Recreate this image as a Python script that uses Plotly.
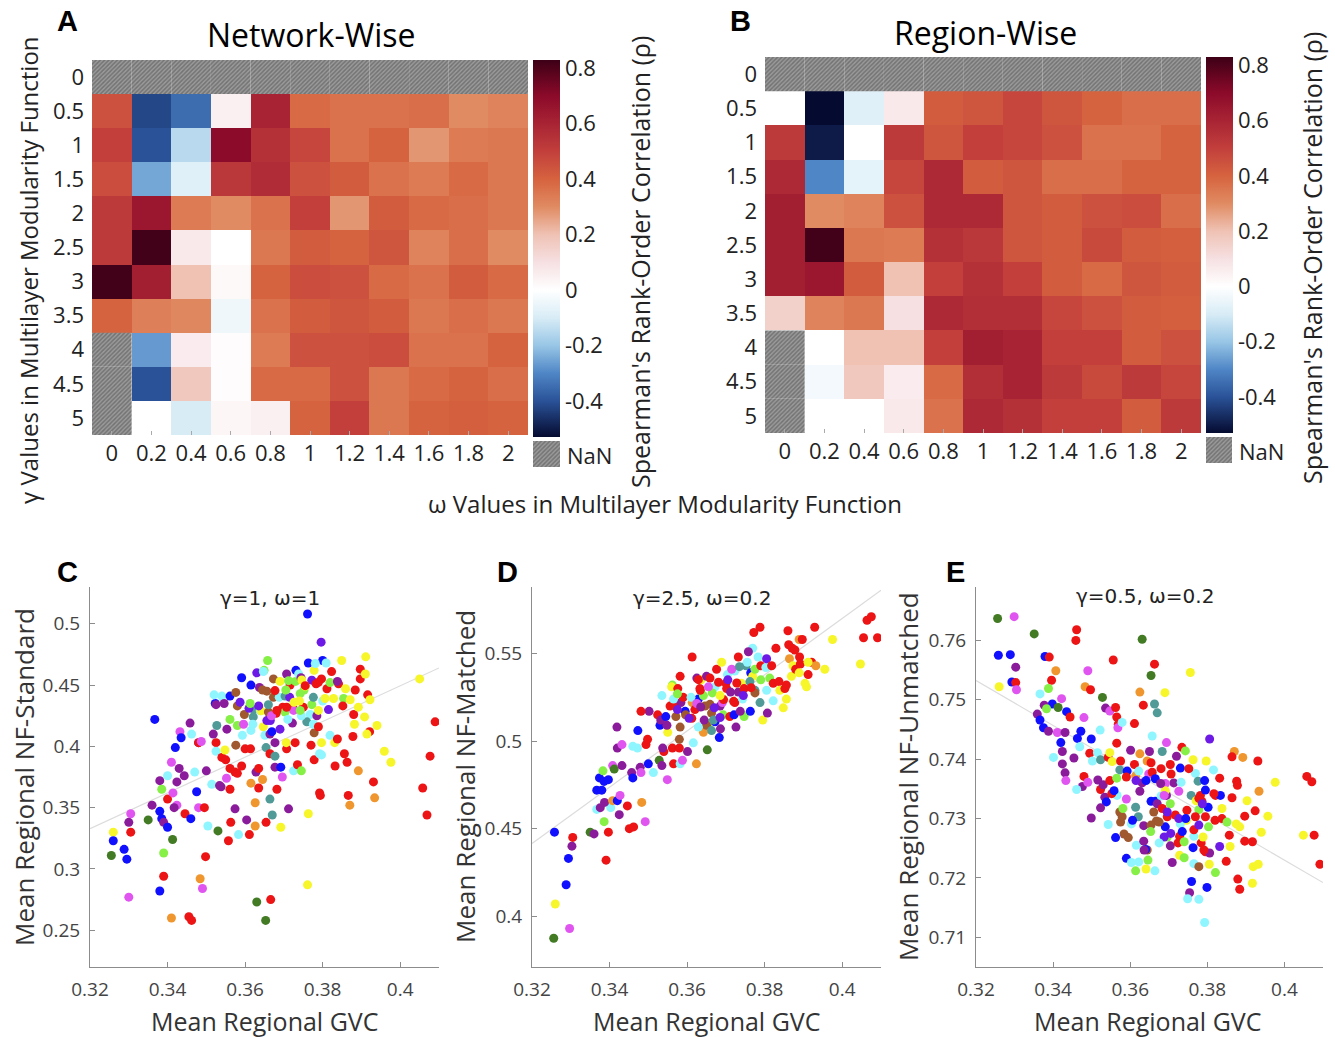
import numpy as np
import plotly.graph_objects as go

W, H = 1335, 1037
def px(x): return x / W
def py(y): return 1 - y / H

FONT = "Open Sans"

# ---------------- heatmap data ----------------
gamma_labels = ["0", "0.5", "1", "1.5", "2", "2.5", "3", "3.5", "4", "4.5", "5"]
omega_labels = ["0", "0.2", "0.4", "0.6", "0.8", "1", "1.2", "1.4", "1.6", "1.8", "2"]
N = None
network_wise = [
    [N, N, N, N, N, N, N, N, N, N, N],
    [0.45, -0.42, -0.35, 0.05, 0.60, 0.38, 0.36, 0.36, 0.37, 0.30, 0.32],
    [0.50, -0.40, -0.15, 0.70, 0.55, 0.48, 0.36, 0.40, 0.28, 0.34, 0.35],
    [0.46, -0.25, -0.08, 0.53, 0.57, 0.45, 0.42, 0.36, 0.34, 0.38, 0.35],
    [0.52, 0.65, 0.34, 0.30, 0.36, 0.50, 0.28, 0.42, 0.38, 0.37, 0.35],
    [0.52, 0.82, 0.07, 0.00, 0.35, 0.42, 0.40, 0.44, 0.32, 0.37, 0.30],
    [0.82, 0.62, 0.20, 0.02, 0.40, 0.46, 0.45, 0.38, 0.36, 0.42, 0.38],
    [0.40, 0.33, 0.31, -0.04, 0.36, 0.42, 0.44, 0.42, 0.35, 0.37, 0.35],
    [N, -0.27, 0.06, 0.01, 0.34, 0.45, 0.45, 0.46, 0.36, 0.36, 0.40],
    [N, -0.40, 0.18, 0.01, 0.38, 0.38, 0.45, 0.35, 0.38, 0.40, 0.37],
    [N, 0.00, -0.10, 0.03, 0.05, 0.40, 0.50, 0.35, 0.40, 0.41, 0.40],
]
region_wise = [
    [N, N, N, N, N, N, N, N, N, N, N],
    [0.00, -0.53, -0.08, 0.07, 0.42, 0.44, 0.48, 0.44, 0.40, 0.37, 0.37],
    [0.52, -0.50, 0.00, 0.52, 0.44, 0.50, 0.48, 0.45, 0.36, 0.36, 0.40],
    [0.58, -0.30, -0.07, 0.48, 0.58, 0.42, 0.44, 0.37, 0.37, 0.40, 0.40],
    [0.62, 0.30, 0.32, 0.45, 0.58, 0.58, 0.44, 0.42, 0.45, 0.46, 0.37],
    [0.62, 0.82, 0.35, 0.34, 0.55, 0.53, 0.44, 0.42, 0.47, 0.42, 0.41],
    [0.62, 0.65, 0.42, 0.20, 0.50, 0.55, 0.50, 0.42, 0.38, 0.44, 0.42],
    [0.15, 0.32, 0.35, 0.10, 0.58, 0.56, 0.56, 0.48, 0.45, 0.42, 0.41],
    [N, 0.00, 0.20, 0.20, 0.50, 0.62, 0.60, 0.50, 0.50, 0.42, 0.45],
    [N, -0.03, 0.18, 0.06, 0.38, 0.56, 0.60, 0.52, 0.47, 0.52, 0.48],
    [N, 0.00, 0.00, 0.07, 0.36, 0.58, 0.55, 0.50, 0.50, 0.42, 0.52],
]
cbar_ticks = [-0.4, -0.2, 0, 0.2, 0.4, 0.6, 0.8]
ZMIN, ZMAX = -0.53, 0.83
cs_vals = [-0.53, -0.4, -0.3, -0.2, -0.1, 0.0, 0.1, 0.2, 0.3, 0.4, 0.5, 0.6, 0.7, 0.83]
cs_cols = ["#050b30", "#2a5298", "#4f86c6", "#98c6e6", "#d8ecf6", "#ffffff", "#f6e0e2",
           "#efc2b4", "#e08b62", "#d6633f", "#c23f3c", "#a82434", "#8c0a2a", "#3c0016"]
colorscale = [[(v - ZMIN) / (ZMAX - ZMIN), c] for v, c in zip(cs_vals, cs_cols)]

# ---------------- scatter data ----------------
net_colors = {"B": "#1010ff", "P": "#8a1c9c", "I": "#6e1ae6", "M": "#e055f0", "C": "#8ff6ff",
              "G": "#86f046", "DG": "#437a24", "Y": "#f6f62a", "O": "#f0962e", "R": "#ec1414",
              "BR": "#a0582e", "T": "#509a98"}

points_C = [("Y",0.326,0.330),("B",0.326,0.323),("DG",0.3255,0.311),("B",0.3288,0.316),("B",0.3295,0.308),("P",0.330,0.338),("M",0.3305,0.345),("R",0.3305,0.330),("M",0.330,0.277),("DG",0.335,0.340),("P",0.336,0.352),("B",0.3367,0.422),("P",0.338,0.372),("G",0.3385,0.365),("B",0.338,0.347),("B",0.3385,0.341),("P",0.339,0.338),("B",0.340,0.334),("G",0.339,0.313),("R",0.339,0.294),("B",0.338,0.282),("O",0.341,0.260),("R",0.340,0.357),("C",0.340,0.376),("M",0.341,0.387),("B",0.342,0.399),("M",0.3414,0.362),("DG",0.3413,0.324),("P",0.3424,0.371),("M",0.3424,0.352),("P",0.3417,0.350),("M",0.3432,0.412),("B",0.3435,0.407),("P",0.343,0.382),("P",0.3443,0.376),("R",0.3445,0.345),("P",0.3458,0.419),("C",0.3462,0.410),("R",0.3455,0.261),("R",0.3462,0.258),("B",0.346,0.341),("C",0.347,0.379),("B",0.3475,0.363),("P",0.348,0.403),("R",0.348,0.403),("M",0.3487,0.404),("M",0.348,0.350),("R",0.3495,0.350),("R",0.3498,0.310),("O",0.3484,0.292),("M",0.349,0.284),("P",0.350,0.380),("C",0.3504,0.335),("C",0.3514,0.369),("P",0.3518,0.410),("B",0.3523,0.435),("P",0.3525,0.434),("R",0.3525,0.403),("T",0.3527,0.417),("C",0.3525,0.396),("DG",0.353,0.331),("P",0.3538,0.367),("P",0.3534,0.368),("R",0.354,0.391),("C",0.354,0.441),("P",0.3546,0.435),("Y",0.3548,0.397),("R",0.355,0.389),("M",0.3552,0.374),("B",0.3561,0.441),("P",0.3553,0.414),("G",0.3561,0.422),("R",0.3561,0.365),("R",0.3563,0.338),("R",0.3557,0.323),("R",0.3561,0.382),("BR",0.3576,0.444),("BR",0.358,0.433),("BR",0.3576,0.401),("G",0.358,0.417),("P",0.3574,0.349),("C",0.3583,0.328),("R",0.3574,0.379),("R",0.358,0.378),("B",0.3591,0.456),("R",0.3591,0.384),("BR",0.3598,0.426),("C",0.3593,0.409),("R",0.360,0.398),("R",0.3614,0.398),("P",0.3604,0.340),("R",0.3611,0.328),("O",0.3615,0.370),("B",0.3615,0.450),("T",0.3621,0.424),("T",0.3623,0.430),("I",0.361,0.431),("C",0.362,0.418),("P",0.3628,0.379),("R",0.3635,0.382),("R",0.3635,0.366),("O",0.3626,0.354),("O",0.3626,0.335),("O",0.3645,0.373),("I",0.363,0.460),("P",0.3637,0.448),("C",0.3639,0.429),("Y",0.3647,0.416),("Y",0.3641,0.429),("BR",0.3645,0.446),("BR",0.3656,0.445),("BR",0.366,0.428),("G",0.3649,0.462),("G",0.3658,0.470),("C",0.3651,0.409),("I",0.3656,0.421),("T",0.3654,0.399),("R",0.3654,0.338),("P",0.3664,0.410),("R",0.3664,0.394),("T",0.3664,0.357),("B",0.3669,0.412),("R",0.3666,0.275),("DG",0.363,0.273),("DG",0.3653,0.258),("T",0.367,0.344),("BR",0.3673,0.455),("BR",0.3673,0.440),("P",0.3677,0.403),("P",0.3677,0.383),("R",0.3682,0.365),("T",0.3677,0.392),("R",0.368,0.427),("C",0.3688,0.440),("Y",0.369,0.453),("I",0.369,0.414),("B",0.3692,0.383),("M",0.3696,0.375),("Y",0.3692,0.334),("R",0.3697,0.432),("G",0.3703,0.428),("P",0.3707,0.459),("T",0.3703,0.441),("R",0.3707,0.398),("Y",0.3706,0.403),("P",0.3712,0.349),("R",0.3716,0.450),("R",0.3723,0.432),("P",0.3722,0.419),("R",0.3729,0.403),("B",0.3731,0.462),("G",0.373,0.453),("C",0.3725,0.380),("R",0.3735,0.385),("G",0.3745,0.380),("R",0.375,0.432),("G",0.3742,0.443),("Y",0.374,0.437),("G",0.3752,0.446),("C",0.3738,0.459),("P",0.3744,0.456),("Y",0.3755,0.449),("B",0.3763,0.468),("C",0.3768,0.426),("T",0.3759,0.420),("R",0.377,0.401),("Y",0.3761,0.287),("Y",0.3763,0.345),("I",0.3772,0.454),("G",0.3772,0.434),("T",0.3776,0.440),("BR",0.3778,0.411),("C",0.3776,0.418),("R",0.3778,0.389),("R",0.3783,0.451),("Y",0.3778,0.462),("I",0.3796,0.485),("B",0.3761,0.508),("R",0.3792,0.362),("R",0.3794,0.360),("R",0.3789,0.416),("C",0.3792,0.394),("C",0.3797,0.393),("Y",0.3797,0.403),("R",0.3797,0.455),("B",0.380,0.470),("C",0.3809,0.468),("C",0.380,0.437),("Y",0.3806,0.439),("R",0.3811,0.447),("G",0.3819,0.452),("R",0.3823,0.461),("I",0.3815,0.430),("Y",0.3828,0.439),("C",0.3819,0.409),("Y",0.3831,0.403),("R",0.3832,0.384),("R",0.3838,0.406),("R",0.3841,0.451),("P",0.3838,0.453),("Y",0.3849,0.470),("G",0.3854,0.439),("R",0.3852,0.433),("Y",0.3859,0.447),("R",0.3856,0.394),("R",0.3863,0.387),("R",0.3866,0.360),("O",0.387,0.352),("R",0.3878,0.408),("R",0.388,0.426),("R",0.3884,0.446),("Y",0.3871,0.438),("Y",0.3882,0.418),("Y",0.3892,0.432),("O",0.3892,0.380),("R",0.3897,0.463),("R",0.3897,0.455),("Y",0.3911,0.473),("Y",0.391,0.459),("Y",0.3908,0.424),("R",0.3916,0.442),("R",0.3921,0.412),("Y",0.3922,0.438),("Y",0.3914,0.410),("R",0.3931,0.371),("O",0.3934,0.358),("Y",0.394,0.417),("Y",0.3959,0.396),("Y",0.3976,0.387),("Y",0.405,0.455),("R",0.4058,0.366),("R",0.4069,0.344),("R",0.4077,0.392),("R",0.409,0.420),("C",0.352,0.442),("I",0.3587,0.436),("M",0.3596,0.418),("C",0.3615,0.413),("I",0.3665,0.421),("C",0.371,0.422),("M",0.3668,0.425),("I",0.3635,0.433),("C",0.3745,0.425),("P",0.3785,0.425),("I",0.3715,0.440),("C",0.3647,0.4611),("C",0.3781,0.4676),("G",0.3712,0.4536),("R",0.3789,0.4522),("Y",0.3746,0.4541),("R",0.3677,0.4455),("G",0.3613,0.435),("R",0.3682,0.4293),("M",0.3725,0.4293),("G",0.3742,0.4293),("Y",0.3789,0.4293),("R",0.3707,0.4319),("Y",0.3726,0.436),("R",0.3755,0.4495),("T",0.366,0.434),("G",0.3705,0.446)]

points_D = [("DG",0.3256,0.3874),("Y",0.326,0.407),("M",0.3297,0.393),("B",0.3288,0.418),("B",0.3294,0.433),("P",0.3303,0.440),("R",0.3305,0.445),("B",0.3258,0.448),("DG",0.335,0.448),("P",0.336,0.447),("R",0.3397,0.448),("R",0.3391,0.432),("G",0.3386,0.454),("C",0.3367,0.461),("P",0.3376,0.462),("C",0.3403,0.462),("P",0.3387,0.465),("O",0.3408,0.466),("B",0.342,0.466),("P",0.3425,0.458),("M",0.3427,0.469),("R",0.3446,0.463),("R",0.3451,0.450),("R",0.3462,0.451),("M",0.3492,0.454),("O",0.3483,0.465),("B",0.3367,0.472),("B",0.338,0.472),("B",0.3374,0.479),("B",0.3386,0.477),("B",0.3397,0.478),("G",0.3383,0.483),("M",0.3408,0.486),("DG",0.3412,0.484),("P",0.3432,0.486),("P",0.3457,0.482),("B",0.346,0.479),("P",0.3479,0.485),("M",0.3481,0.482),("P",0.342,0.496),("M",0.3432,0.498),("P",0.3419,0.508),("B",0.3473,0.506),("C",0.346,0.497),("C",0.3472,0.496),("R",0.3494,0.498),("R",0.3498,0.501),("P",0.3502,0.517),("R",0.3481,0.517),("B",0.350,0.487),("C",0.3513,0.482),("DG",0.3528,0.489),("P",0.3535,0.486),("M",0.3549,0.478),("R",0.354,0.494),("R",0.3565,0.487),("P",0.3537,0.496),("B",0.353,0.509),("R",0.3524,0.515),("P",0.3532,0.512),("C",0.3535,0.526),("Y",0.355,0.505),("P",0.3548,0.509),("R",0.3556,0.520),("R",0.3562,0.496),("R",0.3565,0.521),("G",0.3562,0.532),("Y",0.356,0.531),("R",0.3576,0.530),("R",0.358,0.496),("BR",0.3571,0.514),("BR",0.3582,0.508),("BR",0.358,0.501),("C",0.3582,0.487),("M",0.3588,0.489),("P",0.3601,0.494),("P",0.3584,0.522),("R",0.359,0.525),("B",0.3595,0.517),("C",0.3616,0.499),("BR",0.3596,0.515),("O",0.3613,0.522),("R",0.3613,0.548),("O",0.3624,0.487),("DG",0.3652,0.495),("R",0.3612,0.513),("R",0.362,0.518),("P",0.3625,0.536),("R",0.3633,0.530),("Y",0.3636,0.535),("B",0.3629,0.524),("G",0.3642,0.526),("G",0.3655,0.510),("O",0.3642,0.505),("BR",0.3646,0.520),("BR",0.3659,0.521),("BR",0.3663,0.516),("BR",0.365,0.509),("T",0.3663,0.506),("C",0.3629,0.508),("P",0.3644,0.512),("P",0.365,0.537),("R",0.3659,0.536),("R",0.3676,0.541),("C",0.3672,0.531),("B",0.3672,0.511),("B",0.3683,0.502),("P",0.3686,0.507),("P",0.3685,0.520),("Y",0.3689,0.545),("M",0.3691,0.522),("G",0.3693,0.515),("R",0.370,0.533),("R",0.3702,0.530),("C",0.3704,0.538),("P",0.3712,0.528),("R",0.371,0.514),("B",0.3721,0.515),("P",0.3726,0.508),("R",0.3723,0.522),("R",0.3732,0.548),("P",0.3732,0.528),("C",0.3723,0.540),("Y",0.374,0.533),("G",0.3747,0.514),("R",0.3747,0.530),("C",0.3743,0.524),("C",0.3769,0.553),("T",0.3752,0.543),("P",0.3758,0.551),("B",0.3764,0.539),("Y",0.3769,0.537),("G",0.3775,0.541),("C",0.3783,0.548),("R",0.3772,0.562),("R",0.3788,0.565),("R",0.379,0.543),("T",0.3788,0.522),("Y",0.3795,0.512),("P",0.3807,0.516),("C",0.3803,0.542),("I",0.3805,0.547),("G",0.3813,0.536),("R",0.3818,0.543),("R",0.3822,0.533),("C",0.3822,0.523),("R",0.3829,0.553),("R",0.3837,0.534),("Y",0.3839,0.529),("R",0.3852,0.530),("R",0.3856,0.532),("Y",0.3848,0.519),("Y",0.3856,0.524),("R",0.386,0.563),("R",0.3862,0.555),("R",0.3871,0.553),("O",0.3864,0.547),("O",0.3889,0.558),("R",0.3878,0.552),("Y",0.3873,0.543),("Y",0.3869,0.537),("R",0.388,0.541),("R",0.389,0.548),("R",0.3897,0.558),("R",0.3892,0.544),("Y",0.3889,0.539),("R",0.3912,0.538),("Y",0.3904,0.533),("Y",0.3908,0.531),("R",0.3921,0.545),("O",0.3932,0.543),("R",0.3929,0.565),("Y",0.3912,0.545),("Y",0.3955,0.541),("Y",0.3975,0.558),("Y",0.4047,0.544),("R",0.4055,0.559),("R",0.4064,0.569),("R",0.4075,0.571),("R",0.4091,0.559),("I",0.3705,0.535),("T",0.3762,0.534),("C",0.3755,0.545),("I",0.367,0.519),("T",0.3668,0.512),("C",0.361,0.525),("M",0.3625,0.5215),("I",0.3745,0.526),("T",0.3775,0.529),("G",0.3665,0.5275),("I",0.3605,0.513),("C",0.3565,0.524),("M",0.3715,0.541),("G",0.379,0.535),("R",0.3582,0.537),("R",0.3629,0.5351),("R",0.3681,0.5336),("R",0.3634,0.529),("R",0.3694,0.5237),("R",0.372,0.5227),("BR",0.3775,0.5275),("B",0.3763,0.517),("P",0.3737,0.517),("R",0.3728,0.5332),("Y",0.3685,0.526),("M",0.3655,0.531),("T",0.3735,0.5425),("R",0.3765,0.5305),("P",0.3635,0.5195),("I",0.3575,0.518),("B",0.3545,0.514),("I",0.3685,0.5135),("C",0.3805,0.529),("G",0.3575,0.527)]

points_E = [("DG",0.3256,0.7637),("M",0.3299,0.7640),("B",0.3258,0.7575),("B",0.3289,0.7576),("P",0.3303,0.7555),("B",0.3293,0.7530),("R",0.3303,0.7529),("M",0.3305,0.7517),("Y",0.326,0.7522),("DG",0.3351,0.7611),("R",0.3459,0.7600),("R",0.3461,0.7618),("DG",0.3631,0.7602),("B",0.3379,0.7573),("R",0.339,0.7572),("O",0.3407,0.7549),("R",0.3396,0.7533),("M",0.349,0.7549),("R",0.3556,0.7567),("R",0.3663,0.7560),("DG",0.3654,0.7541),("Y",0.3756,0.7546),("G",0.3388,0.7519),("O",0.3483,0.7522),("R",0.3497,0.7517),("C",0.3366,0.7510),("B",0.3398,0.7493),("P",0.3377,0.7491),("G",0.3383,0.7485),("DG",0.3413,0.7487),("B",0.3435,0.7480),("R",0.3444,0.7471),("P",0.3359,0.7476),("B",0.3366,0.7466),("M",0.3422,0.7502),("DG",0.3528,0.7504),("P",0.3536,0.7486),("M",0.3547,0.7481),("R",0.3562,0.7487),("R",0.3565,0.7471),("M",0.348,0.7470),("R",0.3569,0.7459),("M",0.3568,0.7453),("C",0.3579,0.7462),("O",0.3625,0.7513),("R",0.3634,0.7491),("T",0.3663,0.7493),("T",0.367,0.7478),("Y",0.369,0.7512),("R",0.3611,0.7460),("B",0.3375,0.7453),("P",0.3388,0.7447),("M",0.3411,0.7445),("P",0.3431,0.7445),("B",0.342,0.7428),("P",0.3424,0.7413),("P",0.3424,0.7392),("C",0.3401,0.7403),("B",0.3472,0.7447),("B",0.3463,0.7435),("C",0.3469,0.7421),("B",0.3499,0.7434),("C",0.3522,0.7449),("R",0.3565,0.7427),("P",0.3601,0.7415),("C",0.3657,0.7439),("M",0.3694,0.7428),("R",0.3734,0.7420),("G",0.3743,0.7414),("I",0.3806,0.7434),("P",0.3454,0.7402),("R",0.3495,0.7410),("C",0.3502,0.7397),("C",0.3515,0.7411),("T",0.3523,0.7399),("R",0.3543,0.7403),("Y",0.3547,0.7411),("Y",0.3553,0.7396),("R",0.3575,0.7397),("R",0.3611,0.7391),("O",0.3625,0.7409),("O",0.3644,0.7397),("R",0.3654,0.7394),("P",0.365,0.7413),("T",0.3683,0.7413),("P",0.372,0.7405),("Y",0.3763,0.7399),("Y",0.3797,0.7397),("O",0.387,0.7413),("R",0.3864,0.7404),("O",0.3892,0.7403),("R",0.3931,0.7397),("C",0.3816,0.7382),("P",0.3431,0.7377),("M",0.3433,0.7364),("R",0.348,0.7371),("P",0.3476,0.7354),("M",0.349,0.7361),("C",0.3461,0.7349),("P",0.3516,0.7365),("R",0.3523,0.7349),("P",0.353,0.7357),("R",0.3547,0.7364),("G",0.3565,0.7368),("T",0.3573,0.7382),("B",0.3592,0.7380),("R",0.359,0.7370),("O",0.3614,0.7372),("C",0.3622,0.7380),("M",0.3648,0.7375),("R",0.3657,0.7378),("P",0.3631,0.7360),("B",0.3641,0.7364),("B",0.3665,0.7367),("R",0.368,0.7384),("R",0.3704,0.7391),("R",0.3706,0.7375),("P",0.3713,0.7360),("M",0.3691,0.7359),("C",0.3732,0.7361),("B",0.373,0.7385),("C",0.3769,0.7376),("T",0.3776,0.7363),("B",0.3793,0.7364),("R",0.3832,0.7368),("R",0.3876,0.7363),("R",0.3878,0.7356),("Y",0.3976,0.7361),("R",0.4058,0.7371),("R",0.4071,0.7362),("O",0.3934,0.7346),("P",0.3534,0.7336),("B",0.3538,0.7328),("C",0.3566,0.7339),("P",0.3523,0.7318),("R",0.3552,0.7342),("B",0.3558,0.7347),("M",0.359,0.7333),("P",0.3625,0.7346),("B",0.3654,0.7329),("B",0.3665,0.7329),("C",0.368,0.7338),("P",0.3694,0.7339),("Y",0.3691,0.7347),("M",0.3726,0.7346),("T",0.3758,0.7339),("Y",0.3771,0.7330),("R",0.3786,0.7329),("R",0.3782,0.7339),("B",0.3795,0.7348),("R",0.3821,0.7339),("B",0.3834,0.7339),("R",0.3864,0.7335),("Y",0.3903,0.7330),("P",0.3499,0.7301),("C",0.3543,0.7290),("BR",0.3573,0.7311),("BR",0.3579,0.7303),("BR",0.3575,0.7294),("T",0.3614,0.7319),("T",0.3621,0.7303),("C",0.3603,0.7291),("G",0.3581,0.7317),("P",0.3635,0.7288),("BR",0.3661,0.7311),("BR",0.3668,0.7296),("BR",0.3654,0.7289),("G",0.3653,0.7278),("P",0.367,0.7325),("R",0.3683,0.7317),("R",0.3696,0.7303),("G",0.3704,0.7325),("R",0.3717,0.7306),("B",0.3691,0.7286),("G",0.3696,0.7269),("R",0.3747,0.7314),("Y",0.3746,0.7297),("C",0.373,0.7291),("G",0.3778,0.7315),("R",0.3769,0.7303),("B",0.3802,0.7319),("R",0.3795,0.7303),("R",0.382,0.7297),("R",0.3838,0.7300),("Y",0.3838,0.7317),("G",0.3851,0.7294),("G",0.3803,0.7286),("Y",0.3875,0.7291),("Y",0.3884,0.7286),("R",0.3897,0.7304),("R",0.3924,0.7313),("Y",0.3957,0.7304),("Y",0.394,0.7277),("B",0.3562,0.7268),("BR",0.3584,0.7274),("BR",0.3595,0.7268),("C",0.3616,0.7255),("P",0.3635,0.7262),("BR",0.3644,0.7247),("B",0.364,0.7248),("P",0.3704,0.7254),("R",0.3728,0.7270),("R",0.3724,0.7259),("B",0.3763,0.7251),("C",0.3765,0.7270),("R",0.3784,0.7259),("Y",0.3789,0.7269),("G",0.374,0.7261),("R",0.3795,0.7244),("P",0.3806,0.7242),("I",0.3832,0.7253),("Y",0.3859,0.7253),("R",0.3857,0.7272),("R",0.3897,0.7262),("R",0.3917,0.7261),("Y",0.4049,0.7272),("R",0.4077,0.7272),("B",0.359,0.7233),("C",0.3603,0.7226),("G",0.3614,0.7212),("C",0.3622,0.7227),("Y",0.3641,0.7215),("G",0.3646,0.7230),("C",0.3664,0.7212),("P",0.3709,0.7226),("Y",0.3728,0.7238),("G",0.374,0.7234),("C",0.3765,0.7224),("BR",0.3778,0.7219),("Y",0.3805,0.7223),("G",0.3821,0.7209),("R",0.3849,0.7228),("Y",0.3919,0.7219),("Y",0.3932,0.7223),("Y",0.3917,0.7191),("R",0.3879,0.7198),("R",0.3884,0.7181),("R",0.4092,0.7223),("B",0.3759,0.7194),("B",0.3799,0.7184),("P",0.3754,0.7175),("C",0.3749,0.7165),("C",0.3778,0.7164),("C",0.3793,0.7125),("B",0.3606,0.7297),("BR",0.3675,0.7294),("I",0.3696,0.7311),("I",0.3726,0.730),("B",0.3744,0.730),("R",0.3765,0.7281),("I",0.3778,0.7289),("R",0.3817,0.7342),("I",0.3688,0.7269),("I",0.3705,0.7275),("B",0.3735,0.7278),("C",0.3675,0.7259),("R",0.3791,0.7247),("P",0.3636,0.7247),("I",0.3615,0.7364),("P",0.3679,0.7359),("M",0.3688,0.7339),("R",0.3752,0.7384),("R",0.3778,0.7334),("I",0.3787,0.7325)]

gvc_ticks = [0.32, 0.34, 0.36, 0.38, 0.40]
gvc_ticktext = ["0.32", "0.34", "0.36", "0.38", "0.4"]
yticks_C = [0.25, 0.30, 0.35, 0.40, 0.45, 0.50]
yticks_D = [0.40, 0.45, 0.50, 0.55]
yticks_E = [0.71, 0.72, 0.73, 0.74, 0.75, 0.76]

# ---------------- figure ----------------
fig = go.Figure()
hatch = dict(color="#8a8a8a", line_width=0,
             pattern=dict(shape="/", fgcolor="#4c4c4c", bgcolor="#9a9a9a", size=3, solidity=0.5))

def heat(z, xa, ya, cb_x, cb_top, cb_bottom):
    fig.add_trace(go.Heatmap(
        z=z, x=list(range(11)), y=list(range(11)), xaxis=xa, yaxis=ya,
        zmin=ZMIN, zmax=ZMAX, colorscale=colorscale, hoverinfo="skip",
        colorbar=dict(x=px(cb_x), xanchor="left", y=py(cb_top), yanchor="top",
                      len=(cb_bottom - cb_top) / H, lenmode="fraction",
                      thickness=27, thicknessmode="pixels", xpad=0, ypad=0,
                      outlinewidth=0, tickvals=cbar_ticks,
                      ticktext=[f"{v:g}" for v in cbar_ticks],
                      tickfont=dict(family=FONT, size=22, color="#222"), ticks="")))
    nr, nc = [], []
    for r, row in enumerate(z):
        for c, v in enumerate(row):
            if v is None:
                nr.append(r); nc.append(c)
    fig.add_trace(go.Bar(x=nc, y=[1] * len(nr), base=[r - 0.5 for r in nr], width=1,
                         xaxis=xa, yaxis=ya, hoverinfo="skip", marker=hatch))

heat(network_wise, "x", "y", 533, 60, 437)
heat(region_wise, "x2", "y2", 1206, 57, 433)

for xa, ya in (("x3", "y3"), ("x4", "y4")):
    fig.add_trace(go.Bar(x=[0], y=[1], width=1, xaxis=xa, yaxis=ya, hoverinfo="skip",
                         marker=hatch))

xr = [0.32, 0.41]
for pts, xa, ya in ((points_C, "x5", "y5"), (points_D, "x6", "y6"), (points_E, "x7", "y7")):
    nets = [p[0] for p in pts]
    gx = np.array([p[1] for p in pts])
    gy = np.array([p[2] for p in pts])
    k, b = np.polyfit(gx, gy, 1)
    fig.add_trace(go.Scatter(x=xr, y=[k * xr[0] + b, k * xr[1] + b], mode="lines",
                             line=dict(color="#dcdcdc", width=1.2), xaxis=xa, yaxis=ya,
                             hoverinfo="skip"))
    fig.add_trace(go.Scatter(x=gx, y=gy, mode="markers", xaxis=xa, yaxis=ya,
                             marker=dict(size=9, color=[net_colors[n] for n in nets],
                                         line_width=0), hoverinfo="skip"))

hm_tick = dict(family=FONT, size=22, color="#222")
def hm_axes(xd, yd):
    xa = dict(domain=[px(xd[0]), px(xd[1])], range=[-0.5, 10.5], tickvals=list(range(11)),
              ticktext=omega_labels, showgrid=False, zeroline=False, showline=False,
              ticks="inside", ticklen=4, tickcolor="#aaaaaa", tickfont=hm_tick,
              ticklabelstandoff=3, fixedrange=True)
    ya = dict(domain=[py(yd[1]), py(yd[0])], range=[10.5, -0.5], tickvals=list(range(11)),
              ticktext=gamma_labels, showgrid=False, zeroline=False, showline=False,
              ticks="", tickfont=hm_tick, ticklabelstandoff=7, fixedrange=True)
    return xa, ya

xa1, ya1 = hm_axes((92, 528), (60, 435))
xa2, ya2 = hm_axes((765, 1201), (57, 433))
blank = dict(visible=False, showgrid=False, zeroline=False, fixedrange=True)

sc_tick = dict(family=FONT, size=19, color="#444")
def sc_axes(xd, yr, yt):
    xa = dict(domain=[px(xd[0]), px(xd[1])], range=xr, tickvals=gvc_ticks, ticktext=gvc_ticktext,
              showgrid=False, zeroline=False, showline=True, linecolor="#8c8c8c", linewidth=1,
              ticks="inside", ticklen=5, tickcolor="#8c8c8c", tickfont=sc_tick,
              ticklabelstandoff=5)
    ya = dict(domain=[py(967), py(587)], range=yr, tickvals=yt, ticktext=[f"{v:g}" for v in yt],
              showgrid=False, zeroline=False, showline=True, linecolor="#8c8c8c", linewidth=1,
              ticks="inside", ticklen=5, tickcolor="#8c8c8c", tickfont=sc_tick,
              ticklabelstandoff=5)
    return xa, ya

xa5, ya5 = sc_axes((90, 439), [0.22, 0.53], yticks_C)
xa6, ya6 = sc_axes((532, 881), [0.371, 0.588], yticks_D)
xa7, ya7 = sc_axes((976, 1323), [0.705, 0.769], yticks_E)

fig.update_layout(
    width=W, height=H, margin=dict(l=0, r=0, t=0, b=0, autoexpand=False), autosize=False,
    paper_bgcolor="white", plot_bgcolor="white", showlegend=False, barmode="overlay",
    font=dict(family=FONT, color="#222"),
    xaxis=dict(xa1, anchor="y"), yaxis=dict(ya1, anchor="x"),
    xaxis2=dict(xa2, anchor="y2"), yaxis2=dict(ya2, anchor="x2"),
    xaxis3=dict(blank, domain=[px(533), px(560)], range=[-0.5, 0.5], anchor="y3"),
    yaxis3=dict(blank, domain=[py(467), py(441)], range=[0, 1], anchor="x3"),
    xaxis4=dict(blank, domain=[px(1206), px(1232)], range=[-0.5, 0.5], anchor="y4"),
    yaxis4=dict(blank, domain=[py(463), py(437)], range=[0, 1], anchor="x4"),
    xaxis5=dict(xa5, anchor="y5"), yaxis5=dict(ya5, anchor="x5"),
    xaxis6=dict(xa6, anchor="y6"), yaxis6=dict(ya6, anchor="x6"),
    xaxis7=dict(xa7, anchor="y7"), yaxis7=dict(ya7, anchor="x7"),
)

def ann(text, x, y, size, color="#1a1a1a", family=FONT, angle=0, xanchor="center"):
    fig.add_annotation(text=text, x=px(x), y=py(y), xref="paper", yref="paper",
                       showarrow=False, textangle=angle, xanchor=xanchor, yanchor="middle",
                       font=dict(family=family, size=size, color=color))

BOLD = "Liberation Sans"
ann("<b>A</b>", 67, 21, 29, "#000", BOLD)
ann("<b>B</b>", 740, 21, 29, "#000", BOLD)
ann("<b>C</b>", 67, 572, 29, "#000", BOLD)
ann("<b>D</b>", 507, 572, 29, "#000", BOLD)
ann("<b>E</b>", 955, 572, 29, "#000", BOLD)
ann("Network-Wise", 311, 35, 32, "#000")
ann("Region-Wise", 985, 33, 32, "#000")
ann("γ Values in Multilayer Modularity Function", 28, 270, 24, "#222", angle=-90)
ann("Spearman's Rank-Order Correlation (ρ)", 640, 262, 25, "#222", angle=-90)
ann("Spearman's Rank-Order Correlation (ρ)", 1312, 258, 25, "#222", angle=-90)
ann("ω Values in Multilayer Modularity Function", 665, 503, 24, "#222")
ann("NaN", 589, 455, 22, "#222")
ann("NaN", 1261, 451, 22, "#222")
SUB = "DejaVu Sans"
ann("γ=1, ω=1", 270, 598, 20, "#222", SUB)
ann("γ=2.5, ω=0.2", 702, 598, 20, "#222", SUB)
ann("γ=0.5, ω=0.2", 1145, 596, 20, "#222", SUB)
for xc in (265, 707, 1148):
    ann("Mean Regional GVC", xc, 1021, 25, "#333")
ann("Mean Regional NF-Standard", 24, 777, 26, "#333", angle=-90)
ann("Mean Regional NF-Matched", 465, 777, 26, "#333", angle=-90)
ann("Mean Regional NF-Unmatched", 908, 777, 26, "#333", angle=-90)

fig.write_html("out.html")
